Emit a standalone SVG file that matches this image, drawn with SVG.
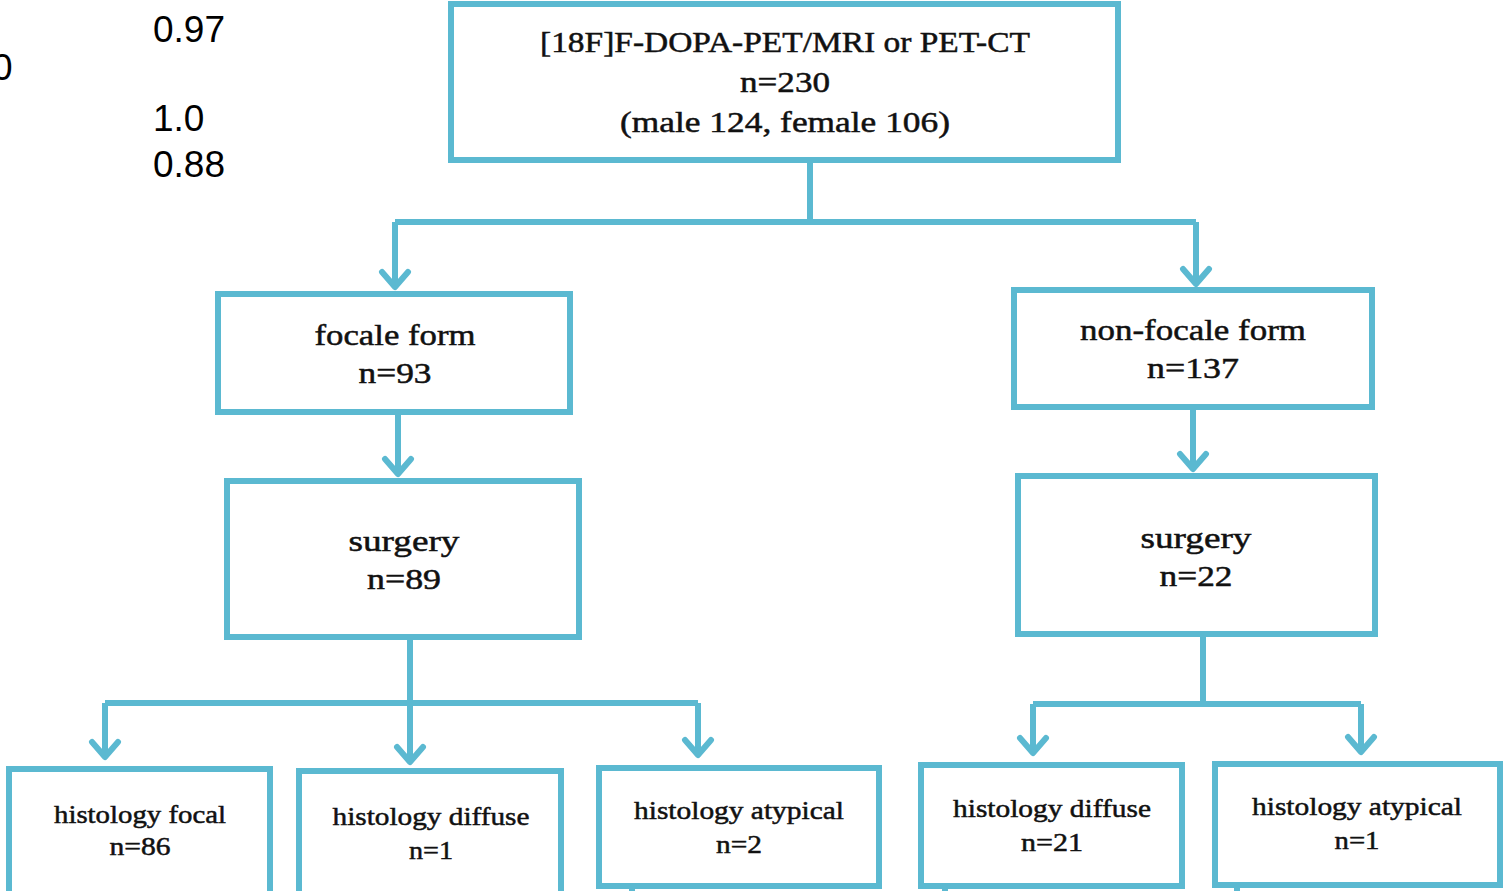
<svg xmlns="http://www.w3.org/2000/svg" width="1504" height="891" viewBox="0 0 1504 891">
<defs>
<style>
.box{fill:#fff;stroke:#5BB9D1;stroke-width:6}
.ln{fill:none;stroke:#5BB9D1;stroke-width:6}
.t{font-family:"Liberation Serif",serif;font-size:30px;fill:#111;stroke:#111;stroke-width:0.5;text-anchor:middle}
.s{font-family:"Liberation Serif",serif;font-size:26px;fill:#111;stroke:#111;stroke-width:0.5;text-anchor:middle}
.num{font-family:"Liberation Sans",Arial,sans-serif;font-size:37px;fill:#000}
</style>
<marker id="ah" markerUnits="userSpaceOnUse" markerWidth="30" markerHeight="30" refX="0" refY="0" orient="auto" overflow="visible">
<path d="M-15,-13 L0,0 L-15,13" fill="none" stroke="#5BB9D1" stroke-width="6" stroke-linecap="round" stroke-linejoin="round"/>
</marker>
</defs>
<rect width="1504" height="891" fill="#fff"/>
<g id="side-numbers">
<text class="num" x="153" y="42">0.97</text>
<text class="num" x="-8" y="80">0</text>
<text class="num" x="153" y="131">1.0</text>
<text class="num" x="153" y="177">0.88</text>
</g>
<g id="connectors">
<path class="ln" d="M810,160 V222 M395,222 H1196"/>
<path class="ln" d="M395,222 V287" marker-end="url(#ah)"/>
<path class="ln" d="M1196,222 V284" marker-end="url(#ah)"/>
<path class="ln" d="M398,413 V474" marker-end="url(#ah)"/>
<path class="ln" d="M1193,408 V469" marker-end="url(#ah)"/>
<path class="ln" d="M410,638 V703 M105,703 H698"/>
<path class="ln" d="M105,703 V757" marker-end="url(#ah)"/>
<path class="ln" d="M410,703 V762" marker-end="url(#ah)"/>
<path class="ln" d="M698,703 V755" marker-end="url(#ah)"/>
<path class="ln" d="M1203,635 V704 M1033,704 H1361"/>
<path class="ln" d="M1033,704 V753" marker-end="url(#ah)"/>
<path class="ln" d="M1361,704 V752" marker-end="url(#ah)"/>
<path class="ln" d="M632,886 V895 M945,886 V895 M1237,886 V895"/>
</g>
<g id="n-top">
<rect class="box" x="451" y="4" width="667" height="156"/>
<text class="t" x="785" y="52" textLength="490" lengthAdjust="spacingAndGlyphs">[18F]F-DOPA-PET/MRI or PET-CT</text>
<text class="t" x="785" y="92" textLength="90" lengthAdjust="spacingAndGlyphs">n=230</text>
<text class="t" x="785" y="132" textLength="330" lengthAdjust="spacingAndGlyphs">(male 124, female 106)</text>
</g>
<g id="n-focale">
<rect class="box" x="218" y="294" width="352" height="118"/>
<text class="t" x="395" y="345" textLength="161" lengthAdjust="spacingAndGlyphs">focale form</text>
<text class="t" x="395" y="383" textLength="73" lengthAdjust="spacingAndGlyphs">n=93</text>
</g>
<g id="n-nonfocale">
<rect class="box" x="1014" y="290" width="358" height="117"/>
<text class="t" x="1193" y="340" textLength="226" lengthAdjust="spacingAndGlyphs">non-focale form</text>
<text class="t" x="1193" y="378" textLength="92" lengthAdjust="spacingAndGlyphs">n=137</text>
</g>
<g id="n-surgery-left">
<rect class="box" x="227" y="481" width="352" height="156"/>
<text class="t" x="404" y="551" textLength="111" lengthAdjust="spacingAndGlyphs">surgery</text>
<text class="t" x="404" y="589" textLength="74" lengthAdjust="spacingAndGlyphs">n=89</text>
</g>
<g id="n-surgery-right">
<rect class="box" x="1018" y="476" width="357" height="158"/>
<text class="t" x="1196" y="548" textLength="111" lengthAdjust="spacingAndGlyphs">surgery</text>
<text class="t" x="1196" y="586" textLength="73" lengthAdjust="spacingAndGlyphs">n=22</text>
</g>
<g id="n-hist-focal">
<rect class="box" x="9" y="769" width="261" height="130"/>
<text class="s" x="140" y="823" textLength="172" lengthAdjust="spacingAndGlyphs">histology focal</text>
<text class="s" x="140" y="855" textLength="61" lengthAdjust="spacingAndGlyphs">n=86</text>
</g>
<g id="n-hist-diffuse-left">
<rect class="box" x="299" y="771" width="262" height="130"/>
<text class="s" x="431" y="825" textLength="197" lengthAdjust="spacingAndGlyphs">histology diffuse</text>
<text class="s" x="431" y="859" textLength="44" lengthAdjust="spacingAndGlyphs">n=1</text>
</g>
<g id="n-hist-atypical-left">
<rect class="box" x="599" y="768" width="280" height="118"/>
<text class="s" x="739" y="819" textLength="210" lengthAdjust="spacingAndGlyphs">histology atypical</text>
<text class="s" x="739" y="853" textLength="46" lengthAdjust="spacingAndGlyphs">n=2</text>
</g>
<g id="n-hist-diffuse-right">
<rect class="box" x="921" y="765" width="261" height="121"/>
<text class="s" x="1052" y="817" textLength="198" lengthAdjust="spacingAndGlyphs">histology diffuse</text>
<text class="s" x="1052" y="851" textLength="62" lengthAdjust="spacingAndGlyphs">n=21</text>
</g>
<g id="n-hist-atypical-right">
<rect class="box" x="1215" y="764" width="285" height="121"/>
<text class="s" x="1357" y="815" textLength="210" lengthAdjust="spacingAndGlyphs">histology atypical</text>
<text class="s" x="1357" y="849" textLength="45" lengthAdjust="spacingAndGlyphs">n=1</text>
</g>
</svg>
